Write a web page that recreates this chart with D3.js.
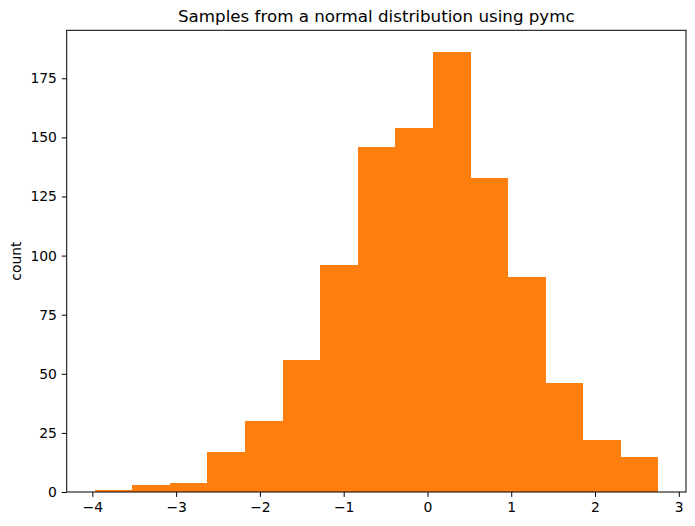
<!DOCTYPE html>
<html><head><meta charset="utf-8">
<script src="https://cdn.jsdelivr.net/npm/d3@7"></script>
<style>body{margin:0;background:#fff}svg{display:block}text{font-family:"DejaVu Sans",sans-serif}</style>
</head><body>
<script>
const binEdges = [-3.97, -3.522, -3.074, -2.626, -2.178, -1.73, -1.282, -0.834, -0.386, 0.062, 0.51, 0.958, 1.406, 1.854, 2.302, 2.75];
const counts = [1, 3, 4, 17, 30, 56, 96, 146, 154, 186, 133, 91, 46, 22, 15];
const xTicks = [-4, -3, -2, -1, 0, 1, 2, 3];
const yTicks = [0, 25, 50, 75, 100, 125, 150, 175];
const title = "Samples from a normal distribution using pymc";
const yLabel = "count";

const W = 695, H = 526;
const m = {l: 66.7, r: 695 - 686, t: 30.3, b: 526 - 492};
const svg = d3.select("body").append("svg").attr("width", W).attr("height", H);
const xr = [binEdges[0], binEdges[binEdges.length - 1]];
const pad = (xr[1] - xr[0]) * 0.05;
const x = d3.scaleLinear().domain([xr[0] - pad, xr[1] + pad]).range([m.l, W - m.r]);
const y = d3.scaleLinear().domain([0, d3.max(counts) * 1.05]).range([H - m.b, m.t]);

svg.append("g").attr("shape-rendering", "crispEdges").selectAll("rect").data(counts).join("rect")
  .attr("x", (d, i) => x(binEdges[i]))
  .attr("width", (d, i) => x(binEdges[i + 1]) - x(binEdges[i]) + 0.5)
  .attr("y", d => y(d))
  .attr("height", d => y(0) - y(d))
  .attr("fill", "#ff7f0e");

const fs = "13.9px";
const xAxis = svg.append("g").attr("transform", `translate(0,${H - m.b})`)
  .call(d3.axisBottom(x).tickValues(xTicks).tickSize(4.9).tickPadding(4.9).tickFormat(d => d < 0 ? "\u2212" + Math.abs(d) : d));
const yAxis = svg.append("g").attr("transform", `translate(${m.l},0)`)
  .call(d3.axisLeft(y).tickValues(yTicks).tickSize(4.9).tickPadding(4.9));
[xAxis, yAxis].forEach(g => {
  g.select(".domain").remove();
  g.selectAll("text").attr("font-size", fs).attr("font-family", "DejaVu Sans").attr("fill", "#000");
  g.selectAll("line").attr("stroke", "#000").attr("stroke-width", 1);
});

svg.append("rect").attr("x", m.l).attr("y", m.t).attr("width", W - m.r - m.l).attr("height", H - m.b - m.t)
  .attr("fill", "none").attr("stroke", "#000").attr("stroke-width", 1);

svg.append("text").attr("x", (m.l + W - m.r) / 2).attr("y", m.t - 8.3).attr("text-anchor", "middle")
  .attr("font-size", "16.7px").text(title);
svg.append("text").attr("transform", `translate(21,${(m.t + H - m.b) / 2}) rotate(-90)`).attr("text-anchor", "middle")
  .attr("font-size", fs).text(yLabel);
</script>
</body></html>
